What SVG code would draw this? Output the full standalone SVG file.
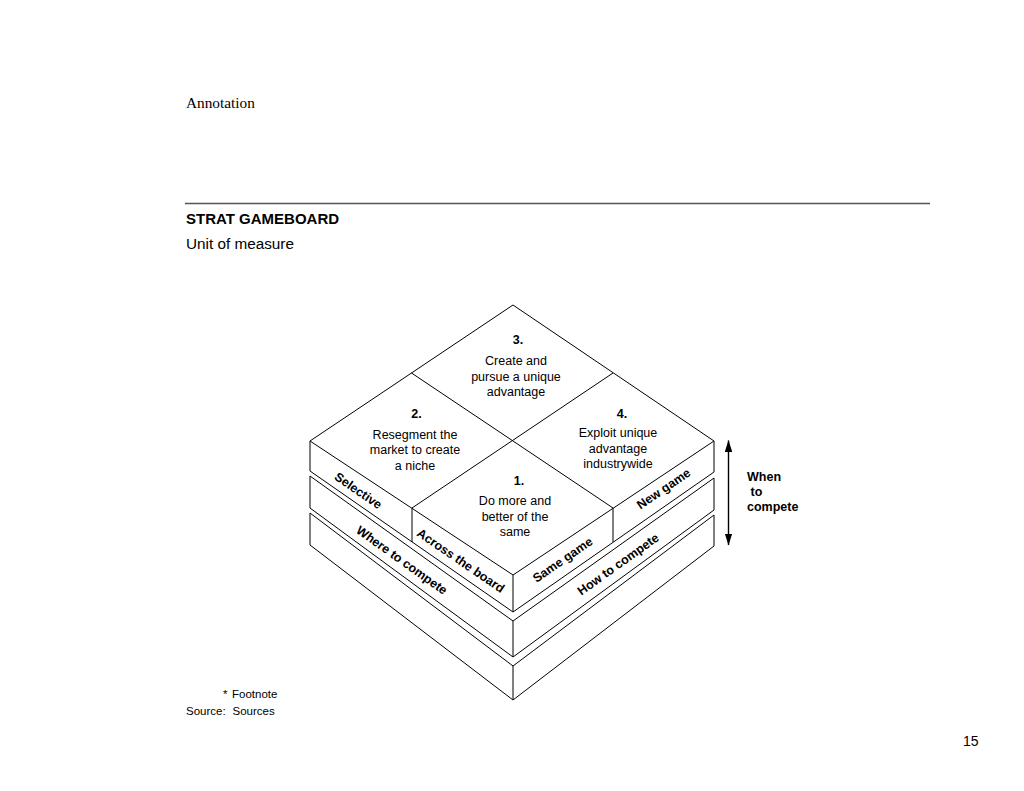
<svg xmlns="http://www.w3.org/2000/svg" width="1024" height="791" viewBox="0 0 1024 791">
<style>
.sans{font-family:"Liberation Sans",Arial,sans-serif;fill:#000}
.face{fill:#fff;stroke:#000;stroke-width:1;stroke-linejoin:miter}
.edge{fill:none;stroke:#000;stroke-width:1}
.body{font-size:12.5px;text-anchor:middle}
.num{font-size:12.5px;font-weight:bold;text-anchor:middle}
.lbl{font-size:12.5px;font-weight:bold;text-anchor:middle}
</style>
<defs>
<marker id="ah" viewBox="0 0 12 7.4" refX="11.5" refY="3.7" markerWidth="12" markerHeight="7.4" markerUnits="userSpaceOnUse" orient="auto-start-reverse">
<path d="M0,0 L12,3.7 L0,7.4 Z" fill="#000"/>
</marker>
</defs>
<rect width="1024" height="791" fill="#fff"/>

<g id="header">
<text x="186" y="108" font-family="'Liberation Serif','Times New Roman',serif" font-size="15.3" fill="#000">Annotation</text>
<line x1="185" y1="203.5" x2="930" y2="203.5" stroke="#555" stroke-width="1.3"/>
<text class="sans" x="186" y="224" font-size="15" font-weight="bold">STRAT GAMEBOARD</text>
<text class="sans" x="186" y="249" font-size="15.3">Unit of measure</text>
</g>

<g id="layer3">
<polygon class="face" points="310,513 513,666 714,515 714,546 513,700 310,545"/>
<line class="edge" x1="513" y1="666" x2="513" y2="700"/>
</g>

<g id="layer2">
<polygon class="face" points="310,476 513,621 714,478 714,510 513,657 310,508"/>
<line class="edge" x1="513" y1="621" x2="513" y2="657"/>
<text class="sans lbl" transform="translate(402,560) rotate(35.5)" dy="0.36em">Where to compete</text>
<text class="sans lbl" transform="translate(618,564) rotate(-35.5)" dy="0.36em">How to compete</text>
</g>

<g id="layer1">
<polygon class="face" points="513,305 714,441 714,472 513,612 310,471 310,441"/>
<polyline class="edge" points="310,441 513,575 714,441"/>
<line class="edge" x1="513" y1="575" x2="513" y2="612"/>
<line class="edge" x1="412" y1="508" x2="412" y2="542"/>
<line class="edge" x1="613" y1="508" x2="613" y2="542"/>
<text class="sans lbl" transform="translate(358.5,490.5) rotate(34.5)" dy="0.36em">Selective</text>
<text class="sans lbl" transform="translate(461,560.5) rotate(34.5)" dy="0.36em">Across the board</text>
<text class="sans lbl" transform="translate(562.5,559.5) rotate(-34.5)" dy="0.36em">Same game</text>
<text class="sans lbl" transform="translate(663.5,488.5) rotate(-34.5)" dy="0.36em">New game</text>
</g>

<g id="quadrant-lines">
<line class="edge" x1="411.5" y1="373" x2="613" y2="508"/>
<line class="edge" x1="613" y1="373" x2="412" y2="508"/>
</g>

<g id="node-3">
<text class="sans num" x="518" y="344">3.</text>
<text class="sans body" x="516" y="365">Create and</text>
<text class="sans body" x="516" y="380.5">pursue a unique</text>
<text class="sans body" x="516" y="396">advantage</text>
</g>
<g id="node-2">
<text class="sans num" x="416.5" y="417.5">2.</text>
<text class="sans body" x="415" y="438.5">Resegment the</text>
<text class="sans body" x="415" y="454">market to create</text>
<text class="sans body" x="415" y="469.5">a niche</text>
</g>
<g id="node-4">
<text class="sans num" x="622" y="418">4.</text>
<text class="sans body" x="618" y="437">Exploit unique</text>
<text class="sans body" x="618" y="452.5">advantage</text>
<text class="sans body" x="618" y="468">industrywide</text>
</g>
<g id="node-1">
<text class="sans num" x="519" y="484.5">1.</text>
<text class="sans body" x="515" y="505">Do more and</text>
<text class="sans body" x="515" y="520.5">better of the</text>
<text class="sans body" x="515" y="536">same</text>
</g>

<g id="connectors">
<line x1="728.5" y1="440.5" x2="728.5" y2="545" stroke="#000" stroke-width="1.4" marker-start="url(#ah)" marker-end="url(#ah)"/>
</g>
<g id="when-label">
<text class="sans" x="747" y="480.5" font-size="12.5" font-weight="bold">When</text>
<text class="sans" x="750.5" y="495.5" font-size="12.5" font-weight="bold">to</text>
<text class="sans" x="747" y="510.5" font-size="12.5" font-weight="bold">compete</text>
</g>

<g id="footer">
<text class="sans" x="223" y="697.5" font-size="11.5">*</text>
<text class="sans" x="232" y="697.5" font-size="11.5">Footnote</text>
<text class="sans" x="186" y="714.5" font-size="11.5">Source:</text>
<text class="sans" x="232.5" y="714.5" font-size="11.5">Sources</text>
<text class="sans" x="963" y="746" font-size="14">15</text>
</g>
</svg>
